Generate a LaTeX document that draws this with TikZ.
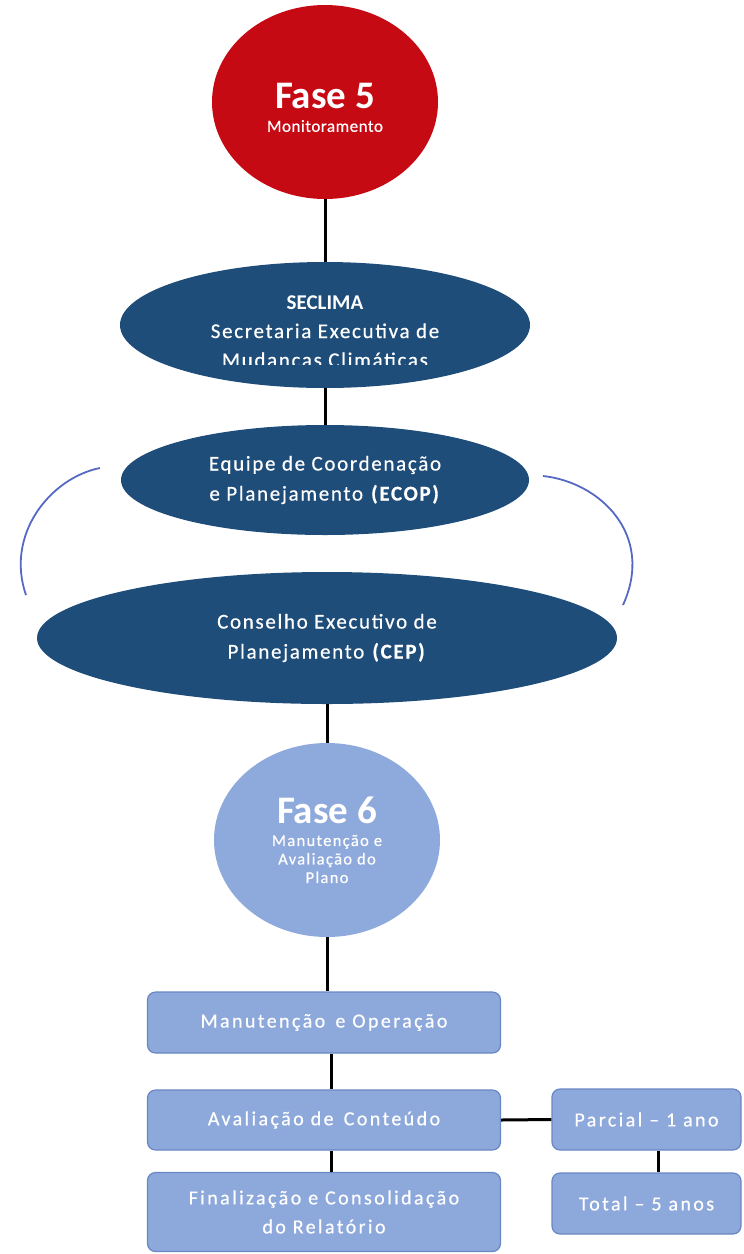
\documentclass[tikz,border=0pt]{standalone}
\usepackage{fontspec}
\setmainfont{Carlito}
\newfontfamily\plainfont{Carlito}
\newfontfamily\boxfont[LetterSpace=12,FakeBold=0.5]{Carlito}
\newfontfamily\ellfont[LetterSpace=8,FakeBold=0.5]{Carlito}
\newfontfamily\subfont[LetterSpace=8,FakeBold=0.5]{Carlito}
\newfontfamily\tagfont[LetterSpace=3,FakeBold=0.5]{Carlito}
\usetikzlibrary{shapes.geometric}

\definecolor{faseRed}{RGB}{198,10,20}
\definecolor{navy}{RGB}{31,77,122}
\definecolor{paleBlue}{RGB}{142,169,219}
\definecolor{boxBlue}{RGB}{141,168,218}
\definecolor{boxEdge}{RGB}{105,135,195}
\definecolor{arcBlue}{RGB}{85,105,195}

\tikzset{
  phase/.style={ellipse, draw=none, inner sep=0pt, minimum width=226pt, minimum height=194pt},
  caption/.style={text=white, align=center, inner sep=0pt},
  organ/.style={ellipse, fill=navy, draw=none, inner sep=0pt, text=white, align=center,
    font=\ellfont\fontsize{21}{30}\selectfont},
  stagebox/.style={rounded corners=8pt, fill=boxBlue, draw=boxEdge, line width=1.2pt,
    text=white, align=center, inner sep=0pt, font=\boxfont\fontsize{20}{29}\selectfont},
  link/.style={line width=3pt, black},
  loopline/.style={arcBlue, line width=1.8pt}
}

\begin{document}
\begin{tikzpicture}[x=1pt, y=-1pt]
\useasboundingbox (0,0) rectangle (744,1254);

% Phase 5
\node[phase, fill=faseRed] (f5) at (325,102) {};
\node[caption, font=\fontsize{39}{40}\selectfont\bfseries] (f5t) at (325,96) {Fase 5};
\node[caption, font=\tagfont\fontsize{17}{20}\selectfont] (f5s) at (325,126) {Monitoramento};

% Governance bodies
\node[organ, minimum width=410pt, minimum height=126pt] (secuma) at (325,325) {};
\begin{scope}
  \clip (110,250) rectangle (540,364);
  \node[caption, font=\plainfont\fontsize{21}{29}\selectfont\bfseries] (secumat) at (325,303) {SECLIMA};
  \node[caption, font=\ellfont\fontsize{21}{29}\selectfont] (secumas) at (325,347)
    {Secretaria Executiva de\\Mudanças Climáticas};
\end{scope}

\node[organ, minimum width=408pt, minimum height=110pt] (ecop) at (325,480)
  {Equipe de Coordenação\\e Planejamento \textbf{(ECOP)}};

\node[organ, minimum width=580pt, minimum height=132pt] (cep) at (327,638)
  {Conselho Executivo de\\Planejamento \textbf{(CEP)}};

% Feedback arcs between ECOP and CEP
\coordinate (la) at (100,468);
\coordinate (lb) at (26,595);
\coordinate (ra) at (543,476);
\coordinate (rb) at (623,605);
\draw[loopline] (la) .. controls (50,478) and (5,535) .. (lb);
\draw[loopline] (ra) .. controls (600,482) and (655,535) .. (rb);

% Phase 6
\node[phase, fill=paleBlue] (f6) at (327,840) {};
\node[caption, font=\fontsize{39}{40}\selectfont\bfseries] (f6t) at (327,810) {Fase 6};
\node[caption, font=\subfont\fontsize{16.5}{18.5}\selectfont] (f6s) at (327,859)
  {Manutenção e\\Avaliação do\\Plano};

% Stages
\node[stagebox, minimum width=353pt, minimum height=61pt] (mo) at (324,1022.5)
  {Manutenção\, e Operação};
\node[stagebox, minimum width=353pt, minimum height=60pt] (av) at (324,1120)
  {Avaliação de\, Conteúdo};
\node[stagebox, minimum width=353pt, minimum height=79pt] (fin) at (324,1212)
  {Finalização e Consolidação\\do Relatório};
\node[stagebox, minimum width=189pt, minimum height=61pt] (parc) at (646.5,1119.5)
  {Parcial – 1 ano};
\node[stagebox, minimum width=189pt, minimum height=61pt] (tot) at (646.5,1203.5)
  {Total – 5 anos};

% Connectors
\draw[link] (f5.south) -- (secuma.north -| f5.south);
\draw[link] (secuma.south) -- (ecop.north -| secuma.south);
\draw[link] (cep.south -| f6.north) -- (f6.north);
\draw[link] (f6.south) -- (mo.north -| f6.south);
\draw[link] ([xshift=7pt]mo.south) -- ([xshift=7pt]av.north);
\draw[link] ([xshift=7pt]av.south) -- ([xshift=7pt]fin.north);
\draw[link] (av.east) -- (parc.west);
\draw[link] ([xshift=12pt]parc.south) -- ([xshift=12pt]tot.north);
\end{tikzpicture}
\end{document}
